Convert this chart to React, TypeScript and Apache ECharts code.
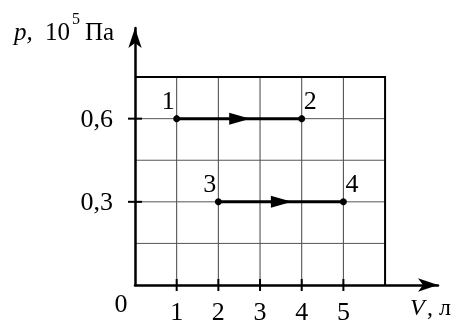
import React, { useEffect, useRef } from "react";
import * as echarts from "echarts";

// ---- data ----
const volumeTicks = [1, 2, 3, 4, 5];
const pressureTicks = [0.3, 0.6];
const gridVolumes = [1, 2, 3, 4, 5];
const gridPressures = [0.15, 0.3, 0.45, 0.6];
const frameVolume = 6;
const framePressure = 0.75;
const volumeMax = 7.27;
const pressureMax = 0.927;
const stateNames = ["1", "2", "3", "4"];
const stateVolumes = [1, 4, 2, 5];
const statePressures = [0.6, 0.6, 0.3, 0.3];
const processStart = [0, 2];
const processEnd = [1, 3];

const FONT = "Liberation Serif";

const txt = (
  x: number,
  y: number,
  text: string,
  fontSize: number,
  italic = false,
  align = "left"
) => ({
  type: "text",
  x,
  y,
  style: {
    text,
    fontSize,
    fontFamily: FONT,
    fontStyle: italic ? "italic" : "normal",
    fill: "#000",
    align,
    verticalAlign: "middle",
  },
});

export default function App() {
  const ref = useRef<HTMLDivElement>(null);

  useEffect(() => {
    if (!ref.current) return;
    const chart = echarts.init(ref.current, undefined, { renderer: "svg" });

    const states = stateNames.map((n, i) => ({
      value: [stateVolumes[i], statePressures[i]],
      name: n,
      label: { offset: [processStart.includes(i) ? -8.5 : 8.5, 3] },
    }));

    const processes = processStart.map((s, i) => [
      stateVolumes[s],
      stateVolumes[processEnd[i]],
      statePressures[s],
    ]);

    const option: any = {
      animation: false,
      grid: {
        left: 135,
        right: 18,
        top: 28,
        bottom: 39,
        containLabel: false,
        outerBoundsMode: "none",
      },
      xAxis: {
        type: "value",
        min: 0,
        max: volumeMax,
        interval: 1,
        z: 5,
        axisLine: {
          show: true,
          onZero: false,
          symbol: ["none", "arrow"],
          symbolSize: [10, 20],
          lineStyle: { color: "#000", width: 2.5 },
        },
        axisTick: { show: false },
        splitLine: { show: false },
        axisLabel: {
          customValues: volumeTicks,
          fontSize: 26,
          fontFamily: FONT,
          color: "#000",
          margin: 13,
        },
      },
      yAxis: {
        type: "value",
        min: 0,
        max: pressureMax,
        interval: 0.15,
        z: 5,
        axisLine: {
          show: true,
          onZero: false,
          symbol: ["none", "arrow"],
          symbolSize: [10, 20],
          lineStyle: { color: "#000", width: 2.5 },
        },
        axisTick: { show: false },
        splitLine: { show: false },
        axisLabel: {
          customValues: pressureTicks,
          formatter: (v: number) => v.toFixed(1).replace(".", ","),
          fontSize: 26,
          fontFamily: FONT,
          color: "#000",
          margin: 22,
        },
      },
      series: [
        {
          type: "custom",
          name: "vgrid",
          z: 1,
          clip: false,
          data: gridVolumes.map((v) => [v, 0]),
          encode: { x: 0, y: 1 },
          renderItem: (_p: any, api: any) => {
            const a = api.coord([api.value(0), 0]);
            const b = api.coord([api.value(0), framePressure]);
            return {
              type: "line",
              shape: { x1: a[0], y1: a[1], x2: b[0], y2: b[1] },
              style: { stroke: "#444", lineWidth: 1 },
            };
          },
        },
        {
          type: "custom",
          name: "hgrid",
          z: 1,
          clip: false,
          data: gridPressures.map((p) => [0, p]),
          encode: { x: 0, y: 1 },
          renderItem: (_p: any, api: any) => {
            const a = api.coord([0, api.value(1)]);
            const b = api.coord([frameVolume, api.value(1)]);
            return {
              type: "line",
              shape: { x1: a[0], y1: a[1], x2: b[0], y2: b[1] },
              style: { stroke: "#555", lineWidth: 1 },
            };
          },
        },
        {
          type: "custom",
          name: "frame",
          z: 2,
          clip: false,
          data: [[frameVolume, framePressure]],
          encode: { x: 0, y: 1 },
          renderItem: (_p: any, api: any) => {
            const a = api.coord([0, api.value(1)]);
            const b = api.coord([api.value(0), api.value(1)]);
            const c = api.coord([api.value(0), 0]);
            return {
              type: "polyline",
              shape: { points: [a, b, c] },
              style: { stroke: "#000", lineWidth: 2, fill: "none" },
            };
          },
        },
        {
          type: "custom",
          name: "xticks",
          z: 5,
          clip: false,
          data: volumeTicks.map((v) => [v, 0]),
          encode: { x: 0, y: 1 },
          renderItem: (_p: any, api: any) => {
            const a = api.coord([api.value(0), 0]);
            return {
              type: "line",
              shape: { x1: a[0], y1: a[1] - 6, x2: a[0], y2: a[1] + 6 },
              style: { stroke: "#000", lineWidth: 2 },
            };
          },
        },
        {
          type: "custom",
          name: "yticks",
          z: 5,
          clip: false,
          data: pressureTicks.map((p) => [0, p]),
          encode: { x: 0, y: 1 },
          renderItem: (_p: any, api: any) => {
            const a = api.coord([0, api.value(1)]);
            return {
              type: "line",
              shape: { x1: a[0] - 7, y1: a[1], x2: a[0] + 7, y2: a[1] },
              style: { stroke: "#000", lineWidth: 2 },
            };
          },
        },
        {
          type: "custom",
          name: "processes",
          z: 3,
          clip: false,
          data: processes,
          encode: { x: [0, 1], y: 2 },
          renderItem: (_p: any, api: any) => {
            const a = api.coord([api.value(0), api.value(2)]);
            const b = api.coord([api.value(1), api.value(2)]);
            const mid = (a[0] + b[0]) / 2;
            const tip = mid + 11;
            const base = tip - 21;
            const y = a[1];
            return {
              type: "group",
              children: [
                {
                  type: "line",
                  shape: { x1: a[0], y1: y, x2: b[0], y2: y },
                  style: { stroke: "#000", lineWidth: 3 },
                },
                {
                  type: "polygon",
                  shape: {
                    points: [
                      [tip, y],
                      [base, y - 6],
                      [base, y + 6],
                    ],
                  },
                  style: { fill: "#000" },
                },
              ],
            };
          },
        },
        {
          type: "scatter",
          name: "states",
          z: 4,
          symbolSize: 7,
          itemStyle: { color: "#000", opacity: 1 },
          data: states,
          label: {
            show: true,
            position: "top",
            formatter: (p: any) => p.name,
            fontSize: 26,
            fontFamily: FONT,
            color: "#000",
          },
        },
      ],
      graphic: [
        txt(121, 303, "0", 26, false, "center"),
        txt(410, 307, "V", 24, true),
        txt(427, 307, ", л", 24),
        txt(14, 31, "p,", 25, true),
        txt(45, 31, "10", 25),
        txt(72, 18, "5", 16),
        txt(85, 31, "Па", 25),
      ],
    };

    chart.setOption(option);
    return () => chart.dispose();
  }, []);

  return (
    <div
      ref={ref}
      style={{ position: "fixed", left: 0, top: 0, width: 456, height: 324 }}
    />
  );
}
